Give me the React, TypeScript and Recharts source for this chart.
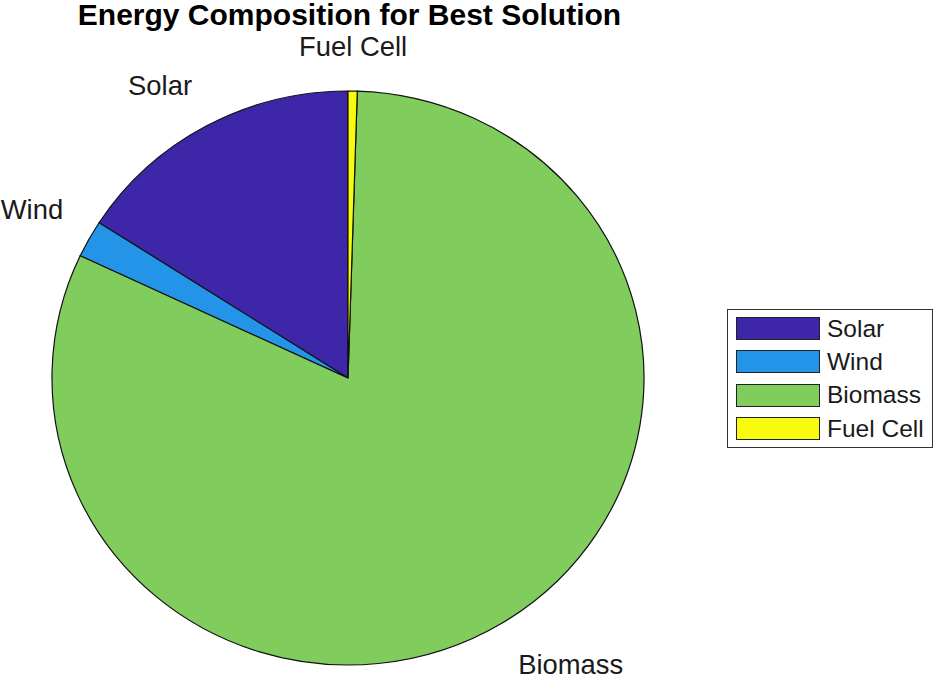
import React from "react";
import { PieChart, Pie, Cell, Legend, Sector } from "recharts";

const sources = ["Solar", "Wind", "Biomass", "Fuel Cell"];
const shares = [15.9, 2.1, 81.5, 0.5];
const sliceColors = ["#3E26A8", "#2494E8", "#80CC5C", "#F9FB0E"];

const chartData = sources.map((name, i) => ({ name, value: shares[i] }));

const FONT = "'Liberation Sans', Arial, Helvetica, sans-serif";
// the picture is a touch squashed vertically, so the pie is an ellipse
const ky = 287 / 296;

function squash(cy: number) {
  return `translate(0 ${cy}) scale(1 ${ky}) translate(0 ${-cy})`;
}

function renderSlice(props: any) {
  return (
    <g transform={squash(props.cy)}>
      <Sector {...props} />
    </g>
  );
}

function renderLabel(props: any) {
  const { cx, cy, midAngle, outerRadius } = props;
  const rad = (midAngle * Math.PI) / 180;
  const cos = Math.cos(rad);
  const sin = Math.sin(rad);
  const x = cx + 1.1 * outerRadius * cos;
  const y = cy - 1.1 * outerRadius * ky * sin;
  const anchor = cos > 0.1 ? "start" : cos < -0.1 ? "end" : "middle";
  const baseline = sin > 0 ? y - 6 : y + 27;
  return (
    <text x={x} y={baseline} textAnchor={anchor} fontFamily={FONT} fontSize={27.4} fill="#1a1a1a">
      {props.name}
    </text>
  );
}

function renderLegend(props: any) {
  // keep the legend in the slice order, not alphabetical
  const payload = [...props.payload].sort(
    (a: any, b: any) => sources.indexOf(a.value) - sources.indexOf(b.value)
  );
  return (
    <div
      style={{
        border: "1.5px solid #333",
        background: "#fff",
        padding: "2px 0",
        boxSizing: "border-box",
        width: 206,
      }}
    >
      {payload.map((entry: any) => (
        <div key={entry.value} style={{ display: "flex", alignItems: "center", height: 33.3 }}>
          <div
            style={{
              width: 84,
              height: 23,
              marginLeft: 8,
              marginRight: 7,
              background: entry.color,
              border: "1.5px solid #222",
              boxSizing: "border-box",
            }}
          />
          <span style={{ fontFamily: FONT, fontSize: 24.5, color: "#1a1a1a", lineHeight: "24px" }}>
            {entry.value}
          </span>
        </div>
      ))}
    </div>
  );
}

export default function App() {
  return (
    <div style={{ position: "absolute", left: 0, top: 0, width: 935, height: 678, background: "#fff" }}>
      <PieChart width={935} height={678} margin={{ top: 0, right: 0, bottom: 0, left: 0 }}>
        <Pie
          data={chartData}
          dataKey="value"
          nameKey="name"
          cx={348}
          cy={378}
          innerRadius={0}
          outerRadius={296}
          startAngle={90}
          endAngle={450}
          stroke="#111"
          strokeWidth={1.2}
          labelLine={false}
          label={renderLabel}
          shape={renderSlice}
          isAnimationActive={false}
        >
          {chartData.map((d, i) => (
            <Cell key={d.name} fill={sliceColors[i]} />
          ))}
        </Pie>
        <Legend
          layout="vertical"
          verticalAlign="top"
          align="right"
          content={renderLegend}
          wrapperStyle={{ position: "absolute", left: 727, top: 309, width: 206, right: "auto", bottom: "auto" }}
        />
      </PieChart>
      <svg
        width={935}
        height={40}
        style={{ position: "absolute", left: 0, top: 0, pointerEvents: "none" }}
      >
        <text x={349.5} y={25} textAnchor="middle" fontFamily={FONT} fontWeight="bold" fontSize={30} fill="#000">
          Energy Composition for Best Solution
        </text>
      </svg>
    </div>
  );
}
